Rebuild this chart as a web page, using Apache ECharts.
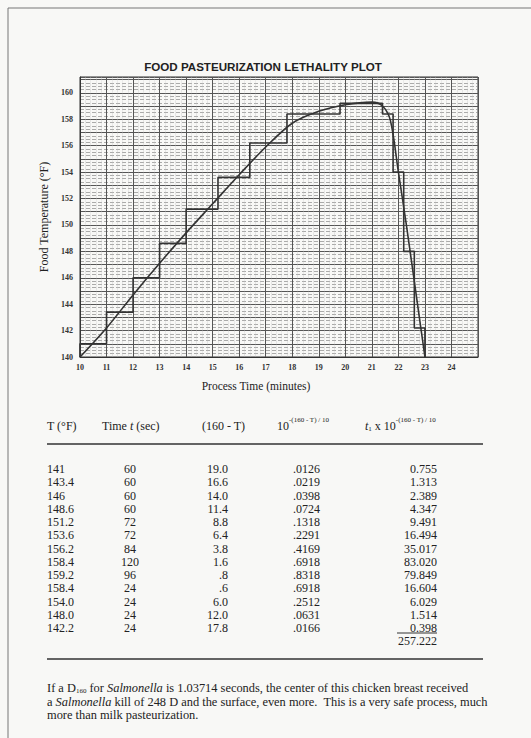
<!DOCTYPE html>
<html>
<head>
<meta charset="utf-8">
<script src="https://cdn.jsdelivr.net/npm/echarts@6/dist/echarts.min.js"></script>
<style>
html, body { margin: 0; padding: 0; background: #f8f8f6; }
#main { width: 531px; height: 738px; }
</style>
</head>
<body>
<div id="main"></div>
<script>
// smooth temperature curve (minutes, deg F)
var curveTime = [10, 11, 12, 13, 14, 15, 16, 17, 18, 19, 20, 21, 21.4, 21.7, 22.0, 22.3, 22.65, 23.0];
var curveTemp = [140, 142.2, 144.7, 147.1, 149.4, 151.6, 153.8, 155.9, 157.7, 158.6, 159.1, 159.3, 159.0, 157.9, 154.0, 150.0, 145.0, 140];

// table rows
var tempF = ['141', '143.4', '146', '148.6', '151.2', '153.6', '156.2', '158.4', '159.2', '158.4', '154.0', '148.0', '142.2'];
var timeSec = [60, 60, 60, 60, 72, 72, 84, 120, 96, 24, 24, 24, 24];
var diffT = ['19.0', '16.6', '14.0', '11.4', '8.8', '6.4', '3.8', '1.6', '.8', '.6', '6.0', '12.0', '17.8'];
var lethal = ['.0126', '.0219', '.0398', '.0724', '.1318', '.2291', '.4169', '.6918', '.8318', '.6918', '.2512', '.0631', '.0166'];
var dose = ['0.755', '1.313', '2.389', '4.347', '9.491', '16.494', '35.017', '83.020', '79.849', '16.604', '6.029', '1.514', '0.398'];
var doseTotal = '257.222';
var startMin = 10;

var serif = '"Liberation Serif", "DejaVu Serif", serif';

// step outline built from the table: each temperature held for its time
var stepData = [[startMin, 140]];
var t = startMin;
for (var i = 0; i < tempF.length; i++) {
    stepData.push([t, parseFloat(tempF[i])]);
    t += timeSec[i] / 60;
}
stepData.push([t, 140]);

var curveData = curveTime.map(function (x, k) { return [x, curveTemp[k]]; });

var myChart = echarts.init(document.getElementById('main'), null, { renderer: 'svg' });

var rich = {
    n: { fontFamily: serif, fontSize: 12, color: '#222', verticalAlign: 'bottom', lineHeight: 16 },
    i: { fontFamily: serif, fontSize: 12, color: '#222', fontStyle: 'italic', verticalAlign: 'bottom', lineHeight: 16 },
    sup: { fontFamily: serif, fontSize: 7, color: '#222', verticalAlign: 'top', lineHeight: 15 },
    sub: { fontFamily: serif, fontSize: 7, color: '#222', verticalAlign: 'bottom', lineHeight: 9 }
};
var richFoot = {
    n: { fontFamily: serif, fontSize: 12.4, color: '#222', verticalAlign: 'bottom', lineHeight: 16 },
    i: { fontFamily: serif, fontSize: 12.4, color: '#222', fontStyle: 'italic', verticalAlign: 'bottom', lineHeight: 16 },
    sub: { fontFamily: serif, fontSize: 7, color: '#222', verticalAlign: 'bottom', lineHeight: 10 }
};

function txt(x, y, text, align, opts) {
    opts = opts || {};
    return {
        type: 'text', x: x, y: y,
        style: {
            text: text, rich: opts.rich, textAlign: align || 'left', textVerticalAlign: 'middle',
            fontFamily: serif, fontSize: opts.size || 12, fill: '#222'
        }
    };
}
function hline(x1, x2, y, w) {
    return { type: 'line', shape: { x1: x1, y1: y, x2: x2, y2: y }, style: { stroke: '#333', lineWidth: w || 1 } };
}

var hy = 424;
var graphics = [
    // page frame
    { type: 'rect', shape: { x: 8, y: 8, width: 540, height: 740 }, style: { fill: 'none', stroke: '#777', lineWidth: 1 } },
    // table header
    txt(47, hy, '{n|T (°F)}', 'left', { rich: rich }),
    txt(102, hy, '{n|Time }{i|t}{n| (sec)}', 'left', { rich: rich }),
    txt(202, hy, '{n|(160 - T)}', 'left', { rich: rich }),
    txt(277, hy, '{n|10}{sup|-(160 - T) / 10}', 'left', { rich: rich }),
    txt(365, hy, '{i|t}{sub|1}{n| x 10}{sup|-(160 - T) / 10}', 'left', { rich: rich }),
    hline(47, 483, 444, 1.5),
    hline(47, 483, 659, 1.5),
    hline(397, 437, 633, 1),
    txt(437, 641, doseTotal, 'right'),
    // footnote
    txt(47, 686, '{n|If a D}{sub|160}{n| for }{i|Salmonella}{n| is 1.03714 seconds, the center of this chicken breast received}', 'left', { rich: richFoot }),
    txt(47, 700, '{n|a }{i|Salmonella}{n| kill of 248 D and the surface, even more.  This is a very safe process, much}', 'left', { rich: richFoot }),
    txt(47, 715, 'more than milk pasteurization.', 'left', { size: 12.4 })
];
for (var r = 0; r < tempF.length; r++) {
    var y = 469 + r * 13.25;
    graphics.push(txt(47, y, tempF[r], 'left'));
    graphics.push(txt(130, y, String(timeSec[r]), 'center'));
    graphics.push(txt(228, y, diffT[r], 'right'));
    graphics.push(txt(293, y, lethal[r], 'left'));
    graphics.push(txt(437, y, dose[r], 'right'));
}

option = {
    backgroundColor: '#f8f8f6',
    animation: false,
    title: {
        text: 'FOOD PASTEURIZATION LETHALITY PLOT',
        left: 258,
        top: 55,
        textAlign: 'center',
        textStyle: { fontFamily: '"Liberation Sans", Arial, sans-serif', fontWeight: 'bold', fontSize: 11.6, color: '#222' }
    },
    grid: {
        left: 80,
        right: 53,
        top: 77,
        bottom: 381,
        show: true,
        borderColor: '#333',
        borderWidth: 1
    },
    xAxis: {
        type: 'value',
        min: 10,
        max: 25,
        interval: 1,
        name: 'Process Time (minutes)',
        nameLocation: 'middle',
        nameGap: 23,
        nameTextStyle: { fontFamily: serif, fontSize: 11.5, color: '#222', padding: [0, 46, 0, 0] },
        axisLine: { lineStyle: { color: '#333' } },
        axisTick: { show: false },
        axisLabel: {
            fontFamily: serif, fontSize: 8, fontWeight: 'bold', color: '#333', margin: 6,
            formatter: function (v) { return v >= 25 ? '' : v; }
        },
        splitLine: { lineStyle: { color: '#555', width: 1 } },
        minorTick: { show: false, splitNumber: 5 },
        minorSplitLine: { show: true, lineStyle: { color: '#c4c4c4', width: 0.6, type: 'dotted' } }
    },
    yAxis: {
        type: 'value',
        min: 140,
        max: 161.2,
        interval: 1,
        name: 'Food Temperature (°F)',
        nameLocation: 'middle',
        nameGap: 24,
        nameTextStyle: { fontFamily: serif, fontSize: 12, color: '#222' },
        axisLine: { lineStyle: { color: '#333' } },
        axisTick: { show: false },
        axisLabel: {
            fontFamily: serif, fontSize: 8, fontWeight: 'bold', color: '#333', margin: 7,
            formatter: function (v) { return v % 2 === 0 ? v : ''; }
        },
        splitLine: { lineStyle: { color: '#555', width: 1 } },
        minorTick: { show: false, splitNumber: 4 },
        minorSplitLine: { show: true, lineStyle: { color: '#8a8a8a', width: 0.7, type: [4, 2] } }
    },
    series: [
        {
            name: 'steps',
            type: 'line',
            step: 'end',
            data: stepData,
            symbol: 'none',
            silent: true,
            lineStyle: { color: '#333', width: 1.6 }
        },
        {
            name: 'curve',
            type: 'line',
            smooth: 0.3,
            data: curveData,
            symbol: 'none',
            silent: true,
            lineStyle: { color: '#333', width: 1.6 }
        }
    ],
    graphic: graphics
};
myChart.setOption(option);
</script>
</body>
</html>
